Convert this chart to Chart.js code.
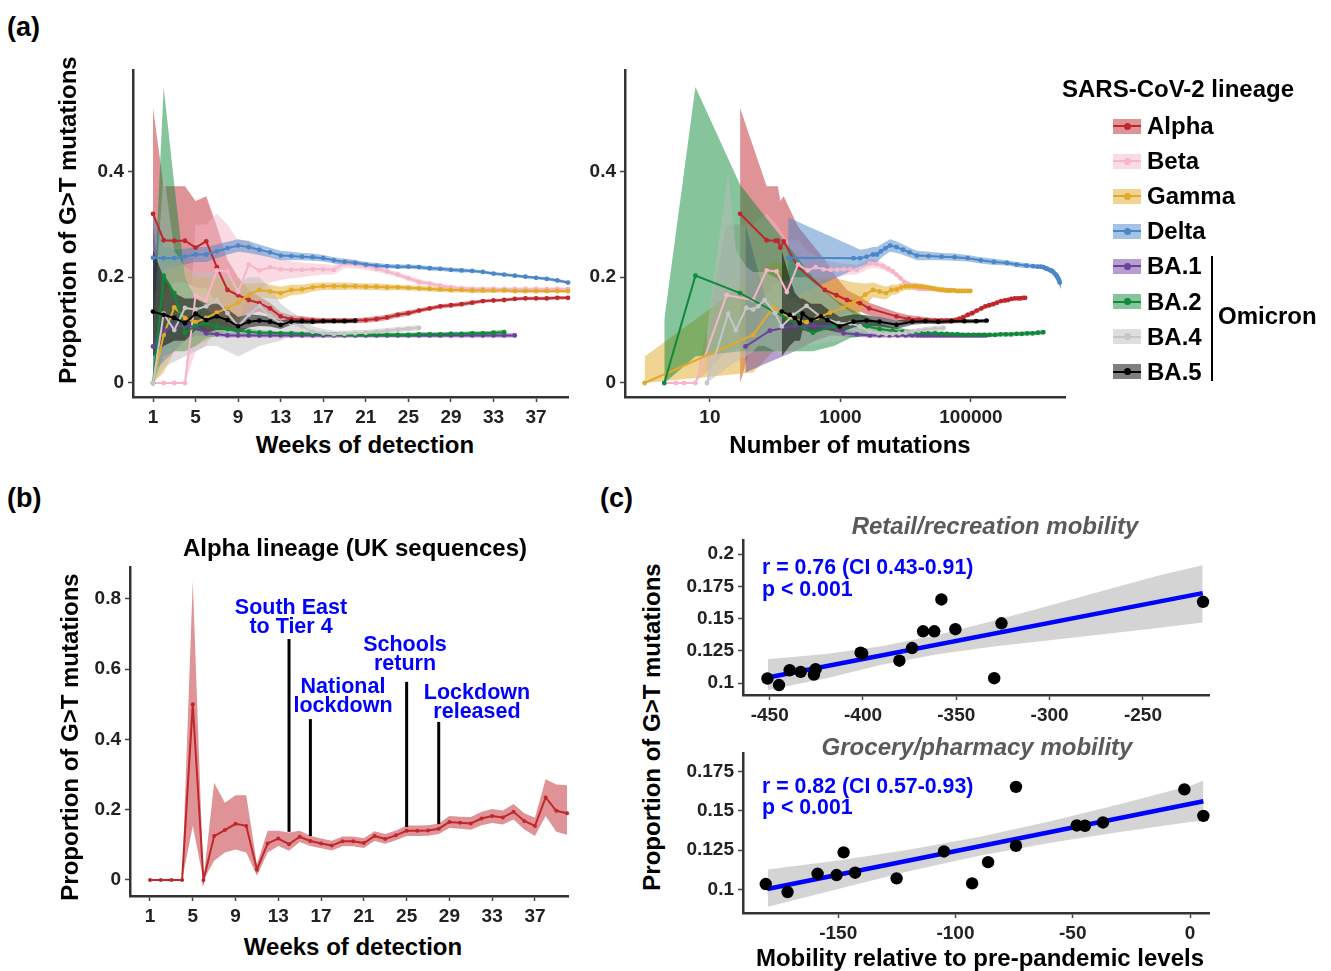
<!DOCTYPE html>
<html>
<head>
<meta charset="utf-8">
<script src="https://cdn.jsdelivr.net/npm/chart.js@4.4.1/dist/chart.umd.min.js"></script>
<style>
  body { margin: 0; background: #fff; font-family: "Liberation Sans", Arial, sans-serif; }
  #page { position: relative; width: 1331px; height: 971px; overflow: hidden; }
  .box { position: absolute; }
  .t { position: absolute; font-weight: bold; white-space: nowrap; color: #000; line-height: 1; }
  .key { position: absolute; width: 28px; height: 15px; }
  .key i { position: absolute; left: 0; right: 0; top: 6.5px; height: 2px; }
  .key b { position: absolute; left: 10.5px; top: 4px; width: 7px; height: 7px; border-radius: 50%; }
  #bracket { position: absolute; left: 1211px; top: 256px; width: 2px; height: 125px; background: #000; }
</style>
</head>
<body>
<div id="page">
  <div class="box" id="box-aw"><canvas id="chart-aw"></canvas></div>
  <div class="box" id="box-an"><canvas id="chart-an"></canvas></div>
  <div class="box" id="box-b"><canvas id="chart-b"></canvas></div>
  <div class="box" id="box-c1"><canvas id="chart-c1"></canvas></div>
  <div class="box" id="box-c2"><canvas id="chart-c2"></canvas></div>
  <div id="bracket"></div>
</div>
<script>
/* global Chart */
const FONT = '"Liberation Sans", Arial, sans-serif';

// ---------- data: panel (a) ----------
const weeks = [1,2,3,4,5,6,7,8,9,10,11,12,13,14,15,16,17,18,19,20,21,22,23,24,25,26,27,28,29,30,31,32,33,34,35,36,37,38,39,40];
const weekTicks = [1,5,9,13,17,21,25,29,33,37];
const yTicksA = [0, 0.2, 0.4];
const nTicks = [10, 1000, 100000];

const alphaVal = [0.320,0.270,0.269,0.269,0.256,0.268,0.219,0.176,0.166,0.157,0.151,0.141,0.126,0.121,0.120,0.119,0.118,0.118,0.118,0.118,0.119,0.121,0.124,0.129,0.132,0.137,0.141,0.145,0.147,0.149,0.152,0.155,0.156,0.157,0.159,0.160,0.160,0.160,0.161,0.161];
const alphaHi  = [0.52,0.372,0.372,0.372,0.344,0.353,0.296,0.233,0.20,0.176,0.163,0.152,0.134,0.128,0.126,0.124,0.123,0.123,0.123,0.123,0.124,0.126,0.129,0.134,0.137,0.141,0.145,0.149,0.151,0.153,0.156,0.158,0.159,0.160,0.162,0.163,0.163,0.163,0.164,0.164];
const alphaLo  = [0.0,0.17,0.19,0.19,0.18,0.18,0.15,0.125,0.125,0.13,0.135,0.128,0.118,0.114,0.114,0.114,0.113,0.113,0.113,0.113,0.114,0.116,0.119,0.124,0.127,0.133,0.137,0.141,0.143,0.145,0.148,0.152,0.153,0.154,0.156,0.157,0.157,0.157,0.158,0.158];
const alphaN   = [29,74,102,110,120,135,224,575,871,1259,1995,2754,7244,11220,15850,21380,28180,35480,42660,50120,57540,66070,75860,89130,104700,123000,144500,166000,190500,218800,251200,288400,331100,371500,416900,467700,524800,575400,631000,676100];

const betaVal = [0,0,0,0,0.166,0.157,0.213,0.211,0.172,0.224,0.213,0.219,0.215,0.214,0.214,0.215,0.215,0.214,0.226,0.225,0.221,0.216,0.211,0.205,0.198,0.191,0.188,0.184,0.181,0.179,0.178,0.178,0.178,0.178,0.178,0.178,0.178,0.178,0.178,0.178];
const betaHi  = [0,0,0,0,0.30,0.30,0.32,0.30,0.27,0.27,0.25,0.24,0.235,0.23,0.228,0.226,0.225,0.223,0.235,0.233,0.228,0.222,0.216,0.21,0.203,0.196,0.192,0.188,0.185,0.183,0.182,0.181,0.181,0.181,0.181,0.181,0.181,0.181,0.181,0.181];
const betaLo  = [0,0,0,0,0.06,0.07,0.12,0.13,0.12,0.17,0.175,0.19,0.195,0.198,0.2,0.203,0.205,0.205,0.217,0.217,0.214,0.21,0.206,0.2,0.193,0.186,0.184,0.18,0.177,0.175,0.175,0.175,0.175,0.175,0.175,0.175,0.175,0.175,0.175,0.175];
const betaN   = [2,3,4,6,18,46,74,105,151,224,316,417,550,708,891,1122,1413,1778,2818,3548,4467,5370,6310,7244,8318,9550,10720,12020,13490,14790,15850,16980,18200,19500,20420,21880,22910,23990,25120,26300];

const gammaVal = [0,0.091,0.143,0.123,0.115,0.123,0.133,0.142,0.152,0.167,0.176,0.173,0.170,0.176,0.177,0.181,0.183,0.183,0.183,0.183,0.182,0.182,0.181,0.181,0.180,0.179,0.178,0.177,0.176,0.176,0.175,0.175,0.175,0.175,0.174,0.174,0.174,0.174,0.174,0.174];
const gammaHi  = [0.05,0.2,0.23,0.22,0.2,0.2,0.2,0.195,0.19,0.188,0.19,0.186,0.182,0.186,0.186,0.189,0.19,0.19,0.19,0.189,0.188,0.188,0.187,0.186,0.185,0.184,0.183,0.182,0.181,0.181,0.18,0.18,0.18,0.179,0.178,0.178,0.178,0.178,0.178,0.178];
const gammaLo  = [0,0.02,0.06,0.06,0.07,0.08,0.09,0.1,0.115,0.145,0.162,0.16,0.158,0.166,0.168,0.173,0.176,0.176,0.176,0.177,0.176,0.176,0.175,0.176,0.175,0.174,0.173,0.172,0.171,0.171,0.17,0.17,0.17,0.171,0.17,0.17,0.17,0.17,0.17,0.17];
const gammaN   = [1,46,93,170,302,437,692,1096,1585,2399,3162,3981,5012,6026,7244,8511,10000,11480,13180,14790,16220,17780,19500,21380,23440,25700,28180,31620,34670,38020,41690,45710,50120,54950,60260,66070,72440,79430,89130,97720];

const deltaVal = [0.237,0.236,0.236,0.239,0.243,0.243,0.249,0.255,0.26,0.257,0.252,0.247,0.241,0.240,0.239,0.238,0.236,0.232,0.229,0.227,0.224,0.222,0.221,0.220,0.220,0.219,0.217,0.216,0.214,0.213,0.212,0.210,0.207,0.205,0.203,0.201,0.199,0.197,0.194,0.190];
const deltaHi  = [0.313,0.258,0.252,0.254,0.257,0.257,0.262,0.267,0.272,0.268,0.262,0.256,0.25,0.248,0.246,0.245,0.242,0.238,0.235,0.232,0.229,0.227,0.225,0.224,0.224,0.223,0.221,0.22,0.218,0.217,0.215,0.213,0.21,0.208,0.206,0.204,0.202,0.2,0.197,0.193];
const deltaLo  = [0.157,0.214,0.220,0.224,0.229,0.229,0.236,0.243,0.248,0.246,0.242,0.238,0.232,0.232,0.232,0.231,0.23,0.226,0.223,0.222,0.219,0.217,0.217,0.216,0.216,0.215,0.213,0.212,0.21,0.209,0.209,0.207,0.204,0.202,0.2,0.198,0.196,0.194,0.191,0.187];
const deltaN   = [158,1585,1995,2512,3162,3631,4169,4898,5754,7244,9120,11480,14790,22390,35480,56230,89130,141300,223900,354800,501200,707900,891300,1047000,1175000,1288000,1380000,1479000,1585000,1660000,1738000,1820000,1905000,1995000,2042000,2089000,2138000,2188000,2239000,2291000];

const ba1Val = [0.069,0.099,0.108,0.108,0.107,0.094,0.092,0.090,0.090,0.090,0.090,0.090,0.090,0.090,0.090,0.090,0.090,0.090,0.090,0.090,0.090,0.090,0.090,0.090,0.090,0.090,0.090,0.090,0.090,0.090,0.090,0.090,0.090,0.090,0.090];
const ba1Hi  = [0.30,0.13,0.128,0.125,0.12,0.1,0.097,0.094,0.094,0.094,0.094,0.094,0.094,0.094,0.094,0.094,0.094,0.094,0.094,0.094,0.094,0.094,0.094,0.094,0.094,0.094,0.094,0.094,0.094,0.094,0.094,0.094,0.094,0.094,0.094];
const ba1Lo  = [0.02,0.04,0.06,0.08,0.09,0.088,0.087,0.086,0.086,0.086,0.086,0.086,0.086,0.086,0.086,0.086,0.086,0.086,0.086,0.086,0.086,0.086,0.086,0.086,0.086,0.086,0.086,0.086,0.086,0.086,0.086,0.086,0.086,0.086,0.086];
const ba1N   = [35,83,200,398,708,1122,1778,2818,3981,5623,7586,10000,12590,15140,16980,19050,21380,23990,26920,30200,33880,38020,42660,47860,53700,60260,67610,75860,85110,95500,107200,120200,134900,151400,169800];

const ba2Val = [0,0.203,0.170,0.095,0.108,0.113,0.107,0.102,0.099,0.097,0.095,0.095,0.094,0.094,0.093,0.093,0.092,0.092,0.091,0.091,0.091,0.091,0.091,0.091,0.091,0.092,0.092,0.092,0.093,0.093,0.094,0.094,0.095,0.096];
const ba2Hi  = [0.12,0.56,0.375,0.2,0.16,0.14,0.125,0.113,0.106,0.103,0.1,0.099,0.098,0.098,0.097,0.097,0.096,0.096,0.095,0.095,0.095,0.095,0.095,0.095,0.095,0.096,0.096,0.096,0.097,0.097,0.098,0.098,0.099,0.1];
const ba2Lo  = [0,0.05,0.06,0.06,0.07,0.085,0.09,0.092,0.092,0.091,0.09,0.091,0.09,0.09,0.089,0.089,0.088,0.088,0.087,0.087,0.087,0.087,0.087,0.087,0.087,0.088,0.088,0.088,0.089,0.089,0.09,0.09,0.091,0.092];
const ba2N   = [2,6,29,380,794,1413,2512,3981,6310,8913,12590,16600,21880,28180,35480,42850,51760,62520,75510,91200,110200,133000,160700,194100,234400,283100,342000,413000,498900,602600,727800,879000,1062000,1282000];

const ba4Val = [0,0.131,0.10,0.142,0.139,0.145,0.157,0.132,0.107,0.129,0.146,0.126,0.113,0.113,0.107,0.097,0.094,0.092,0.093,0.094,0.095,0.097,0.099,0.101,0.103,0.104];
const ba4Hi  = [0.1,0.40,0.25,0.22,0.21,0.21,0.21,0.2,0.19,0.2,0.2,0.18,0.15,0.135,0.122,0.108,0.102,0.099,0.099,0.1,0.1,0.102,0.104,0.106,0.108,0.109];
const ba4Lo  = [0,0.03,0.04,0.05,0.06,0.07,0.07,0.06,0.05,0.06,0.07,0.075,0.08,0.09,0.092,0.086,0.086,0.085,0.087,0.088,0.09,0.092,0.094,0.096,0.098,0.099];
const ba4N   = [9,19,25,36,46,55,69,100,126,191,302,490,933,1413,1995,2818,3802,5012,6310,7943,10000,12590,15850,19950,28180,38020];

const ba5Val = [0.135,0.129,0.123,0.113,0.131,0.119,0.126,0.119,0.107,0.116,0.118,0.116,0.110,0.116,0.117,0.116,0.117,0.117,0.117,0.118];
const ba5Hi  = [0.25,0.2,0.17,0.16,0.16,0.15,0.15,0.14,0.125,0.13,0.128,0.125,0.118,0.122,0.122,0.121,0.121,0.121,0.121,0.121];
const ba5Lo  = [0.05,0.07,0.08,0.08,0.1,0.095,0.1,0.1,0.095,0.105,0.108,0.107,0.102,0.11,0.112,0.111,0.113,0.113,0.113,0.114];
const ba5N   = [126,166,200,240,263,355,501,631,977,1585,2512,3981,7244,12590,19950,31620,50120,79430,120200,173800];

// ---------- data: panel (b) ----------
const yTicksB = [0, 0.2, 0.4, 0.6, 0.8];
const bVal = [0,0,0,0,0.50,0,0.125,0.142,0.160,0.154,0.030,0.104,0.118,0.102,0.123,0.111,0.104,0.098,0.110,0.110,0.105,0.125,0.117,0.127,0.140,0.140,0.141,0.146,0.165,0.163,0.161,0.175,0.182,0.178,0.194,0.168,0.154,0.235,0.197,0.190];
const bHi  = [0,0,0,0,0.851,0,0.277,0.22,0.241,0.241,0.045,0.14,0.14,0.135,0.14,0.126,0.118,0.112,0.124,0.124,0.119,0.139,0.131,0.141,0.155,0.155,0.156,0.161,0.182,0.18,0.179,0.194,0.202,0.198,0.216,0.19,0.177,0.287,0.272,0.27];
const bLo  = [0,0,0,0,0.154,0,0.055,0.078,0.087,0.078,0.012,0.078,0.097,0.083,0.108,0.097,0.09,0.084,0.096,0.096,0.091,0.111,0.103,0.113,0.125,0.125,0.126,0.131,0.148,0.146,0.143,0.156,0.162,0.158,0.172,0.144,0.125,0.182,0.137,0.129];
const annWeek   = [14, 16, 25, 28];
const annTop    = [0.686, 0.458, 0.564, 0.45];
const annBottom = [0.137, 0.125, 0.151, 0.159];
const annLabels = [['South East', 'to Tier 4'], ['National', 'lockdown'], ['Schools', 'return'], ['Lockdown', 'released']];

// ---------- data: panel (c) ----------
const retailX = [-451.2,-445,-439.3,-433.4,-426.3,-425.4,-401.3,-400.4,-380.5,-373.7,-367.8,-361.8,-358,-350.5,-329.7,-325.8,-217.8];
const retailY = [0.1036,0.0985,0.110,0.1087,0.1067,0.1108,0.1236,0.1228,0.1174,0.1272,0.1402,0.1402,0.1649,0.1418,0.1038,0.1464,0.1631];
const retailFitX = [-451, -218];
const retailFitY = [0.1044, 0.1698];
const retailBandX  = [-451,-420,-390,-360,-330,-300,-270,-240,-218];
const retailBandLo = [0.0946,0.1036,0.1143,0.1224,0.1284,0.1333,0.1382,0.1431,0.147];
const retailBandHi = [0.1185,0.1226,0.1287,0.1374,0.1484,0.1603,0.1722,0.1841,0.1915];
const retailXTicks = [-450,-400,-350,-300,-250];
const retailYTicks = [0.1,0.125,0.15,0.175,0.2];

const groceryX = [-180.9,-171.6,-158.8,-150.7,-147.7,-142.8,-125.1,-104.9,-92.9,-86.1,-74.2,-74.2,-48.3,-44.8,-37.1,-2.4,5.7];
const groceryY = [0.1034,0.0983,0.1099,0.1091,0.1235,0.1106,0.1070,0.1241,0.1038,0.1173,0.1651,0.1277,0.1406,0.1404,0.1425,0.1635,0.1467];
const groceryFitX = [-180.3, 5.7];
const groceryFitY = [0.1002, 0.156];
const groceryBandX  = [-180,-150,-120,-90,-60,-30,0,5.7];
const groceryBandLo = [0.089,0.1003,0.1115,0.1213,0.1295,0.1365,0.1428,0.1432];
const groceryBandHi = [0.1127,0.1183,0.1251,0.1333,0.1431,0.1541,0.1658,0.169];
const groceryXTicks = [-150,-100,-50,0];
const groceryYTicks = [0.1,0.125,0.15,0.175];

const lineages = [
  { name: 'Alpha', line: '#c0272d', fill: 'rgba(192,39,45,0.5)',   val: alphaVal, hi: alphaHi, lo: alphaLo, n: alphaN },
  { name: 'Beta',  line: '#f6b5c8', fill: 'rgba(246,181,200,0.5)', val: betaVal,  hi: betaHi,  lo: betaLo,  n: betaN },
  { name: 'Gamma', line: '#e2a92a', fill: 'rgba(226,169,42,0.5)',  val: gammaVal, hi: gammaHi, lo: gammaLo, n: gammaN },
  { name: 'Delta', line: '#4a86c8', fill: 'rgba(74,134,200,0.5)',  val: deltaVal, hi: deltaHi, lo: deltaLo, n: deltaN },
  { name: 'BA.1',  line: '#6d3fa0', fill: 'rgba(109,63,160,0.5)',  val: ba1Val,   hi: ba1Hi,   lo: ba1Lo,   n: ba1N },
  { name: 'BA.2',  line: '#0e8a3a', fill: 'rgba(14,138,58,0.5)',   val: ba2Val,   hi: ba2Hi,   lo: ba2Lo,   n: ba2N },
  { name: 'BA.4',  line: '#c6c6c6', fill: 'rgba(190,190,190,0.5)', val: ba4Val,   hi: ba4Hi,   lo: ba4Lo,   n: ba4N },
  { name: 'BA.5',  line: '#000000', fill: 'rgba(0,0,0,0.5)',       val: ba5Val,   hi: ba5Hi,   lo: ba5Lo,   n: ba5N }
];

// ---------- helpers ----------
const page = document.getElementById('page');

function txt(s, x, y, o = {}) {
  const d = document.createElement('div');
  d.className = 't';
  d.textContent = s;
  d.style.left = x + 'px';
  d.style.top = y + 'px';
  d.style.fontSize = (o.size || 24) + 'px';
  if (o.color) d.style.color = o.color;
  if (o.italic) d.style.fontStyle = 'italic';
  const ax = o.left ? '0' : '-50%';
  d.style.transform = `translate(${ax},-50%)` + (o.rot ? ` rotate(${o.rot}deg)` : '');
  page.appendChild(d);
}

// area = [left, right, top, bottom] of the plotting region, in page pixels
function place(id, area, yW, xH, padT, padR) {
  const el = document.getElementById(id);
  el.style.left = (area[0] - yW) + 'px';
  el.style.top = (area[2] - padT) + 'px';
  el.style.width = (area[1] - area[0] + yW + padR) + 'px';
  el.style.height = (area[3] - area[2] + padT + xH) + 'px';
}

function axis(type, min, max, ticks, size) {
  return {
    type, min, max,
    afterBuildTicks: s => { s.ticks = ticks.map(v => ({ value: v })); },
    afterFit: s => { if (s.isHorizontal()) s.height = size; else s.width = size; },
    grid: { drawOnChartArea: false, drawTicks: true, tickLength: 5, tickWidth: 1.5, tickColor: '#444' },
    border: { display: true, color: '#333', width: 2.5 },
    ticks: { autoSkip: false, maxRotation: 0, padding: 4, color: '#222',
             font: { size: 19, weight: 'bold', family: FONT }, callback: v => String(v) }
  };
}

function opts(xAx, yAx, padT, padR) {
  return {
    responsive: true, maintainAspectRatio: false, animation: false, events: [],
    layout: { padding: { top: padT, right: padR, left: 0, bottom: 0 } },
    plugins: { legend: { display: false }, tooltip: { enabled: false }, filler: { drawTime: 'beforeDatasetsDraw' } },
    elements: { line: { tension: 0 } },
    scales: { x: xAx, y: yAx }
  };
}

const pts = (xs, ys) => ys.map((v, i) => ({ x: xs[i], y: v }));

function ribbon(xs, lo, hi, color) {
  return [
    { data: pts(xs, lo), borderWidth: 0, pointRadius: 0, fill: false },
    { data: pts(xs, hi), borderWidth: 0, pointRadius: 0, fill: '-1', backgroundColor: color }
  ];
}

function series(xs, ys, color, w, r) {
  return { data: pts(xs, ys), borderColor: color, backgroundColor: color, borderWidth: w,
           pointRadius: r, pointBorderWidth: 0, fill: false, clip: false };
}

function lineageSets(useN) {
  const rev = lineages.slice().reverse(); // first dataset is drawn on top
  const lines = rev.map(L => series(useN ? L.n : weeks, L.val, L.line, 2, 2.4));
  const bands = rev.flatMap(L => ribbon(useN ? L.n : weeks, L.lo, L.hi, L.fill));
  return lines.concat(bands);
}

// ---------- panel (a) ----------
const areaAW = [133, 568, 70, 397];
const areaAN = [625, 1065, 70, 397];
place('box-aw', areaAW, 60, 34, 16, 10);
place('box-an', areaAN, 60, 34, 16, 10);

new Chart(document.getElementById('chart-aw'), {
  type: 'line',
  data: { datasets: lineageSets(false) },
  options: opts(axis('linear', -0.88, 40.0, weekTicks, 34), axis('linear', -0.0265, 0.592, yTicksA, 60), 16, 10)
});

new Chart(document.getElementById('chart-an'), {
  type: 'line',
  data: { datasets: lineageSets(true) },
  options: opts(axis('logarithmic', 0.5, 2.76e6, nTicks, 34), axis('linear', -0.0265, 0.592, yTicksA, 60), 16, 10)
});

// ---------- panel (b) ----------
const annPlugin = {
  id: 'annot',
  afterDatasetsDraw(chart) {
    const { ctx, scales: { x, y } } = chart;
    ctx.save();
    ctx.strokeStyle = '#000';
    ctx.lineWidth = 3;
    annWeek.forEach((w, i) => {
      const px = x.getPixelForValue(w);
      ctx.beginPath();
      ctx.moveTo(px, y.getPixelForValue(annTop[i]));
      ctx.lineTo(px, y.getPixelForValue(annBottom[i]));
      ctx.stroke();
    });
    ctx.restore();
  }
};

const areaB = [130, 568, 567, 896];
place('box-b', areaB, 60, 34, 16, 10);
new Chart(document.getElementById('chart-b'), {
  type: 'line',
  data: { datasets: [series(weeks, bVal, '#c0272d', 2, 2)].concat(ribbon(weeks, bLo, bHi, 'rgba(192,39,45,0.5)')) },
  options: opts(axis('linear', -0.87, 40.09, weekTicks, 34), axis('linear', -0.0456, 0.891, yTicksB, 60), 16, 10),
  plugins: [annPlugin]
});

// ---------- panel (c) ----------
function scatterSets(xs, ys, fx, fy, bx, blo, bhi) {
  const dots = { data: pts(xs, ys), showLine: false, pointRadius: 6.2, pointBorderWidth: 0,
                 backgroundColor: '#000', borderColor: '#000', clip: false };
  const fit = { data: pts(fx, fy), borderColor: '#0000ff', borderWidth: 4.5, pointRadius: 0, fill: false };
  return [dots, fit].concat(ribbon(bx, blo, bhi, 'rgba(160,160,160,0.45)'));
}

const areaC1 = [743, 1209, 540, 695];
const areaC2 = [743, 1209, 753, 913];
place('box-c1', areaC1, 75, 34, 16, 12);
place('box-c2', areaC2, 75, 34, 16, 12);

new Chart(document.getElementById('chart-c1'), {
  type: 'line',
  data: { datasets: scatterSets(retailX, retailY, retailFitX, retailFitY, retailBandX, retailBandLo, retailBandHi) },
  options: opts(axis('linear', -464.3, -214.6, retailXTicks, 34), axis('linear', 0.0908, 0.211, retailYTicks, 75), 16, 12)
});

new Chart(document.getElementById('chart-c2'), {
  type: 'line',
  data: { datasets: scatterSets(groceryX, groceryY, groceryFitX, groceryFitY, groceryBandX, groceryBandLo, groceryBandHi) },
  options: opts(axis('linear', -190.6, 8.1, groceryXTicks, 34), axis('linear', 0.085, 0.1866, groceryYTicks, 75), 16, 12)
});

// ---------- text ----------
txt('(a)', 7, 27, { size: 27, left: true });
txt('(b)', 7, 498, { size: 27, left: true });
txt('(c)', 600, 498, { size: 27, left: true });

txt('Proportion of G>T mutations', 68, 220, { rot: -90 });
txt('Weeks of detection', 365, 445);
txt('Number of mutations', 850, 445);

txt('Alpha lineage (UK sequences)', 355, 548);
txt('Proportion of G>T mutations', 70, 737, { rot: -90 });
txt('Weeks of detection', 353, 947);
const annText = [[291, 608], [343, 687], [405, 645], [477, 693]];
annLabels.forEach((l, i) => {
  txt(l[0], annText[i][0], annText[i][1], { size: 21.5, color: '#0000ff' });
  txt(l[1], annText[i][0], annText[i][1] + 19, { size: 21.5, color: '#0000ff' });
});

txt('Retail/recreation mobility', 995, 526, { italic: true, color: '#5a5a5a' });
txt('Grocery/pharmacy mobility', 977, 747, { italic: true, color: '#5a5a5a' });
txt('r = 0.76 (CI 0.43-0.91)', 762, 568, { size: 21.3, color: '#0000ff', left: true });
txt('p < 0.001', 762, 590, { size: 21.3, color: '#0000ff', left: true });
txt('r = 0.82 (CI 0.57-0.93)', 762, 787, { size: 21.3, color: '#0000ff', left: true });
txt('p < 0.001', 762, 808, { size: 21.3, color: '#0000ff', left: true });
txt('Proportion of G>T mutations', 652, 727, { rot: -90 });
txt('Mobility relative to pre-pandemic levels', 980, 958);

// ---------- legend ----------
txt('SARS-CoV-2 lineage', 1062, 89, { left: true });
lineages.forEach((L, i) => {
  const cy = 126 + 35.1 * i;
  const k = document.createElement('div');
  k.className = 'key';
  k.style.left = '1113px';
  k.style.top = (cy - 7.5) + 'px';
  k.style.background = L.fill;
  k.innerHTML = `<i style="background:${L.line}"></i><b style="background:${L.line}"></b>`;
  page.appendChild(k);
  txt(L.name, 1147, cy, { left: true });
});
txt('Omicron', 1218, 316, { left: true });
</script>
</body>
</html>
